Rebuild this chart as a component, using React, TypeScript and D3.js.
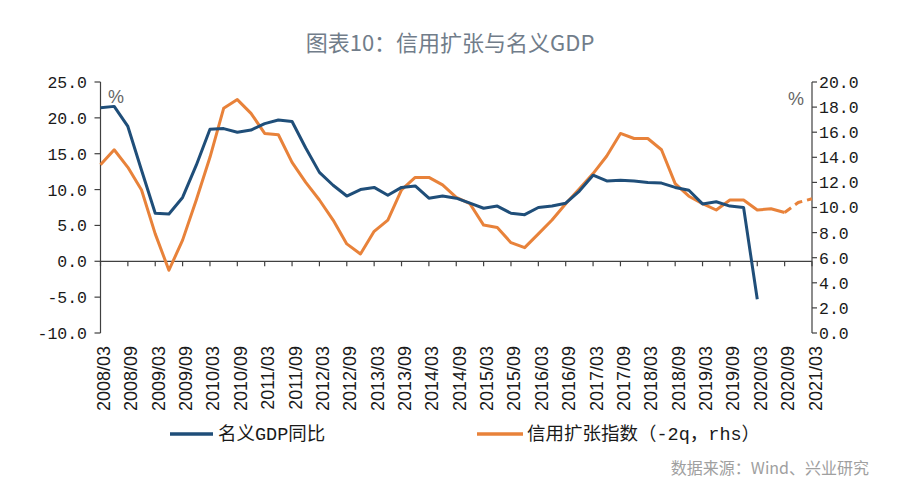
import React from "react";
import * as d3 from "d3";

const title = "图表10：信用扩张与名义GDP";
const source = "数据来源：Wind、兴业研究";
const seriesNames = ["名义GDP同比", "信用扩张指数（-2q，rhs）"];

const quarters: string[] = [];
for (let y = 2008; y <= 2021; y++) {
  for (const m of ["03", "06", "09", "12"]) {
    if (y === 2021 && m !== "03") continue;
    quarters.push(`${y}/${m}`);
  }
}

const tickLabels = [
  "2008/03", "2008/09", "2009/03", "2009/09", "2010/03", "2010/09", "2011/03", "2011/09",
  "2012/03", "2012/09", "2013/03", "2013/09", "2014/03", "2014/09", "2015/03", "2015/09",
  "2016/03", "2016/09", "2017/03", "2017/09", "2018/03", "2018/09", "2019/03", "2019/09",
  "2020/03", "2020/09", "2021/03",
];

// 名义GDP同比 (left axis), 2008/03 .. 2020/03
const gdpYoY = [
  21.4, 21.6, 18.8, 12.7, 6.7, 6.6, 8.9, 13.4,
  18.4, 18.5, 18.0, 18.3, 19.2, 19.7, 19.5, 15.8,
  12.4, 10.6, 9.1, 10.0, 10.3, 9.2, 10.3, 10.5,
  8.8, 9.1, 8.8, 8.1, 7.4, 7.7, 6.7, 6.5,
  7.5, 7.7, 8.1, 9.8, 12.0, 11.2, 11.3, 11.2,
  11.0, 10.9, 10.3, 9.9, 8.0, 8.3, 7.7, 7.5,
  -5.3,
];

// 信用扩张指数 (right axis), 2008/03 .. 2021/03 (last two quarters dashed)
const creditIndex = [
  13.4, 14.6, 13.2, 11.4, 7.9, 5.0, 7.4, 10.6,
  14.0, 17.9, 18.6, 17.5, 15.9, 15.8, 13.6, 12.0,
  10.6, 9.0, 7.1, 6.3, 8.1, 9.0, 11.4, 12.4,
  12.4, 11.8, 10.8, 10.3, 8.6, 8.4, 7.2, 6.8,
  7.9, 9.0, 10.3, 11.5, 12.7, 14.1, 15.9, 15.5,
  15.5, 14.6, 11.9, 10.9, 10.3, 9.8, 10.6, 10.6,
  9.8, 9.9, 9.6, 10.4, 10.7,
];
const creditSolidCount = 51; // points 0..50 solid, 50..52 dashed

const leftTicks = [25, 20, 15, 10, 5, 0, -5, -10];
const rightTicks = [20, 18, 16, 14, 12, 10, 8, 6, 4, 2, 0];

const BLUE = "#1f4e79";
const ORANGE = "#e8823a";
const AXIS = "#404040";

export default function App() {
  const W = 900, H = 493;
  const x0 = 100.5, x1 = 812;
  const yTop = 82, yBot = 333;

  const x = d3.scaleLinear().domain([0, quarters.length - 1]).range([x0, x1]);
  const yL = d3.scaleLinear().domain([-10, 25]).range([yBot, yTop]);
  const yR = d3.scaleLinear().domain([0, 20]).range([yBot, yTop]);

  const lineL = d3.line<number>().x((_, i) => x(i)).y((d) => yL(d));
  const solidCredit = creditIndex.slice(0, creditSolidCount);
  const dashCredit = creditIndex.slice(creditSolidCount - 1);
  const lineR = d3.line<number>().x((_, i) => x(i)).y((d) => yR(d));
  const lineRDash = d3
    .line<number>()
    .x((_, i) => x(i + creditSolidCount - 1))
    .y((d) => yR(d));

  const zeroY = yL(0);
  const monoFont = "'Liberation Mono', 'DejaVu Sans Mono', monospace";
  const cjkFont = "'Liberation Mono', 'Noto Sans CJK SC', sans-serif";

  return (
    <svg
      width={W}
      height={H}
      style={{ position: "absolute", left: 0, top: 0, display: "block", background: "#fff" }}
    >
      <text
        x={450}
        y={51}
        textAnchor="middle"
        fontFamily="'Noto Sans CJK SC', sans-serif"
        fontSize={22}
        fill="#717d8a"
      >
        {title}
      </text>

      {/* left axis */}
      <line x1={x0} x2={x0} y1={yTop} y2={yBot} stroke={AXIS} strokeWidth={1.2} />
      {leftTicks.map((t) => (
        <g key={"l" + t}>
          <line x1={x0 - 6} x2={x0} y1={yL(t)} y2={yL(t)} stroke={AXIS} strokeWidth={1.2} />
          <text
            x={87}
            y={yL(t)}
            dy="0.36em"
            textAnchor="end"
            fontFamily={monoFont}
            fontSize={16.5}
            fill="#1a1a1a"
          >
            {t.toFixed(1)}
          </text>
        </g>
      ))}

      {/* right axis */}
      <line x1={x1} x2={x1} y1={yTop} y2={yBot} stroke={AXIS} strokeWidth={1.2} />
      {rightTicks.map((t) => (
        <g key={"r" + t}>
          <line x1={x1} x2={x1 + 5} y1={yR(t)} y2={yR(t)} stroke={AXIS} strokeWidth={1.2} />
          <text
            x={819}
            y={yR(t)}
            dy="0.36em"
            textAnchor="start"
            fontFamily={monoFont}
            fontSize={16.5}
            fill="#1a1a1a"
          >
            {t.toFixed(1)}
          </text>
        </g>
      ))}

      {/* % unit labels */}
      <text x={108} y={103} fontFamily="'Liberation Sans', sans-serif" fontSize={18} fill="#666">
        %
      </text>
      <text x={788} y={105} fontFamily="'Liberation Sans', sans-serif" fontSize={18} fill="#666">
        %
      </text>

      {/* x axis at zero */}
      <line x1={x0} x2={x1} y1={zeroY} y2={zeroY} stroke={AXIS} strokeWidth={1.2} />
      {tickLabels.map((lab) => {
        const i = quarters.indexOf(lab);
        const tx = x(i);
        return (
          <g key={lab}>
            <line x1={tx} x2={tx} y1={zeroY} y2={zeroY + 5} stroke={AXIS} strokeWidth={1.2} />
            <text
              transform={`translate(${tx + 3.5},346) rotate(-90)`}
              textAnchor="end"
              dominantBaseline="central"
              fontFamily="'Liberation Sans', Arial, sans-serif"
              fontSize={18}
              fill="#1a1a1a"
            >
              {lab}
            </text>
          </g>
        );
      })}

      {/* series */}
      <path d={lineR(solidCredit) || ""} fill="none" stroke={ORANGE} strokeWidth={3} strokeLinejoin="round" />
      <path
        d={lineRDash(dashCredit) || ""}
        fill="none"
        stroke={ORANGE}
        strokeWidth={3}
        strokeDasharray="8,5"
      />
      <path d={lineL(gdpYoY) || ""} fill="none" stroke={BLUE} strokeWidth={3} strokeLinejoin="round" />

      {/* legend */}
      <line x1={170} x2={213} y1={434} y2={434} stroke={BLUE} strokeWidth={3.5} />
      <text x={218} y={434} dy="0.35em" fontFamily={cjkFont} fontSize={18.5} fill="#1a1a1a">
        {seriesNames[0]}
      </text>
      <line x1={477} x2={523} y1={434} y2={434} stroke={ORANGE} strokeWidth={3.5} />
      <text x={527} y={434} dy="0.35em" fontFamily={cjkFont} fontSize={18.5} fill="#1a1a1a">
        {seriesNames[1]}
      </text>

      <text
        x={869}
        y={474}
        textAnchor="end"
        fontFamily="'Noto Sans CJK SC', sans-serif"
        fontSize={16}
        fill="#a0a0a0"
      >
        {source}
      </text>
    </svg>
  );
}
